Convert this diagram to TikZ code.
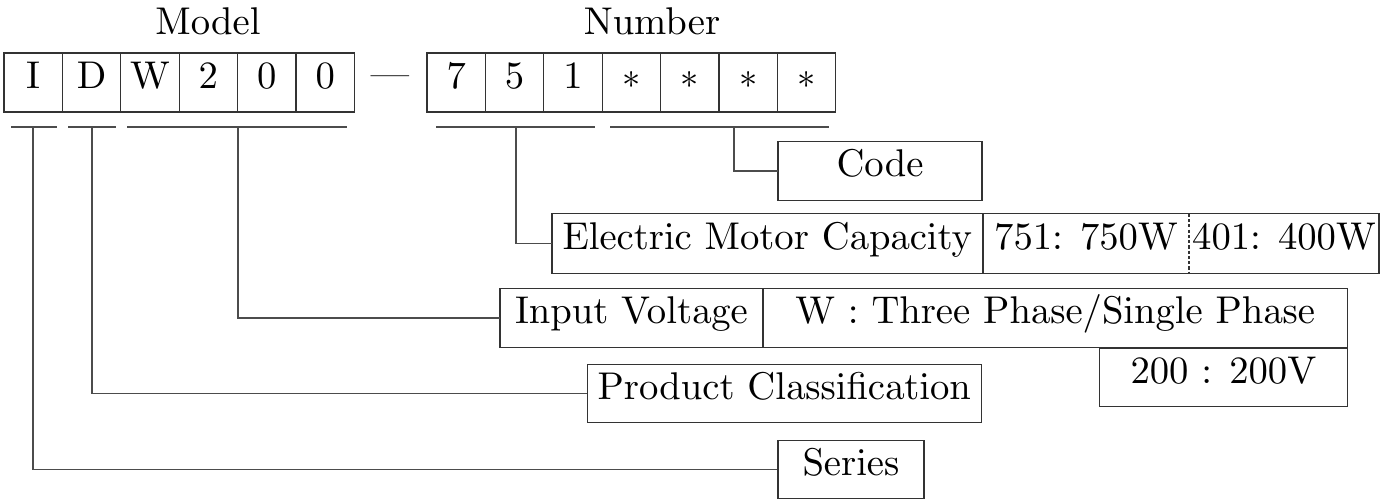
\documentclass[tikz,border=0pt]{standalone}
\usepackage{tikz}
\usetikzlibrary{positioning}

\font\labelfont=cmr10 at 22pt

\begin{document}
\begin{tikzpicture}[x=0.02cm, y=-0.02cm,
    font=\fontsize{22}{26}\selectfont\labelfont,
    line width=0.6pt, draw=black!80,
    cell/.style={draw, minimum width=1.168cm, minimum height=1.18cm, inner sep=0pt, text height=0.9em, text depth=0.22em},
    tag/.style={draw, minimum height=1.17cm, inner sep=0pt, text height=0.9em, text depth=0.22em},
    part/.style={minimum height=1.17cm, inner sep=0pt, text height=0.9em, text depth=0.22em},
    link/.style={draw=black!70}]
  \useasboundingbox (0,0) rectangle (1387,500);

  % Headings
  \node[anchor=base] (model) at (208,35) {Model};
  \node[anchor=base] (number) at (652,35) {Number};

  % Model cells
  \foreach \i/\c in {0/I, 1/D, 2/W, 3/2, 4/0, 5/0} {
    \node[cell] (m\i) at (33.2+\i*58.4,82.5) {\c};
  }
  \node[inner sep=0pt] (dash) at (390,78) {---};

  % Number cells
  \foreach \i/\c in {0/7, 1/5, 2/1, 3/$\ast$, 4/$\ast$, 5/$\ast$, 6/$\ast$} {
    \node[cell] (n\i) at (456.2+\i*58.4,82.5) {\c};
  }

  % Underlines
  \foreach \a/\b in {11/57, 68/116, 127/347, 436/595, 610/829}
    \draw[link] (\a,127) -- (\b,127);
  \coordinate (bS) at (33,127);
  \coordinate (bP) at (92,127);
  \coordinate (bV) at (238,127);
  \coordinate (bE) at (516,127);
  \coordinate (bC) at (734,127);

  % Code
  \node[tag, minimum width=4.08cm] (code) at (880,171) {Code};

  % Capacity
  \node[part, minimum width=8.6cm, anchor=west] (emc) at (552,243.5) {Electric Motor Capacity};
  \node[part, minimum width=4.1cm, anchor=west] (emc7) at (emc.east) {751: 750W};
  \node[part, minimum width=3.78cm, anchor=west] (emc4) at (emc7.east) {401: 400W};
  \draw (emc.north west) rectangle (emc4.south east);
  \draw (emc.north east) -- (emc.south east);
  \draw[dash pattern=on 1.8pt off 1.2pt] (emc7.north east) -- (emc7.south east);

  % Voltage
  \node[part, minimum width=5.24cm, anchor=west] (volt) at (500,318) {Input Voltage};
  \node[part, minimum width=11.68cm, anchor=west] (phase) at (volt.east) {W : Three Phase/Single Phase};
  \draw (volt.north west) rectangle (phase.south east);
  \draw (volt.north east) -- (volt.south east);
  \node[tag, minimum width=4.96cm, anchor=north east] (v200) at (phase.south east) {200 : 200V};

  % Classification and series
  \node[tag, minimum width=7.9cm] (prod) at (784.5,393.5) {Product Classification};
  \node[tag, minimum width=2.92cm] (series) at (851,469.5) {Series};

  % Connectors
  \draw[link] (bC) |- (code.west);
  \draw[link] (bE) |- (emc.west);
  \draw[link] (bV) |- (volt.west);
  \draw[link] (bP) |- (prod.west);
  \draw[link] (bS) |- (series.west);
\end{tikzpicture}
\end{document}
